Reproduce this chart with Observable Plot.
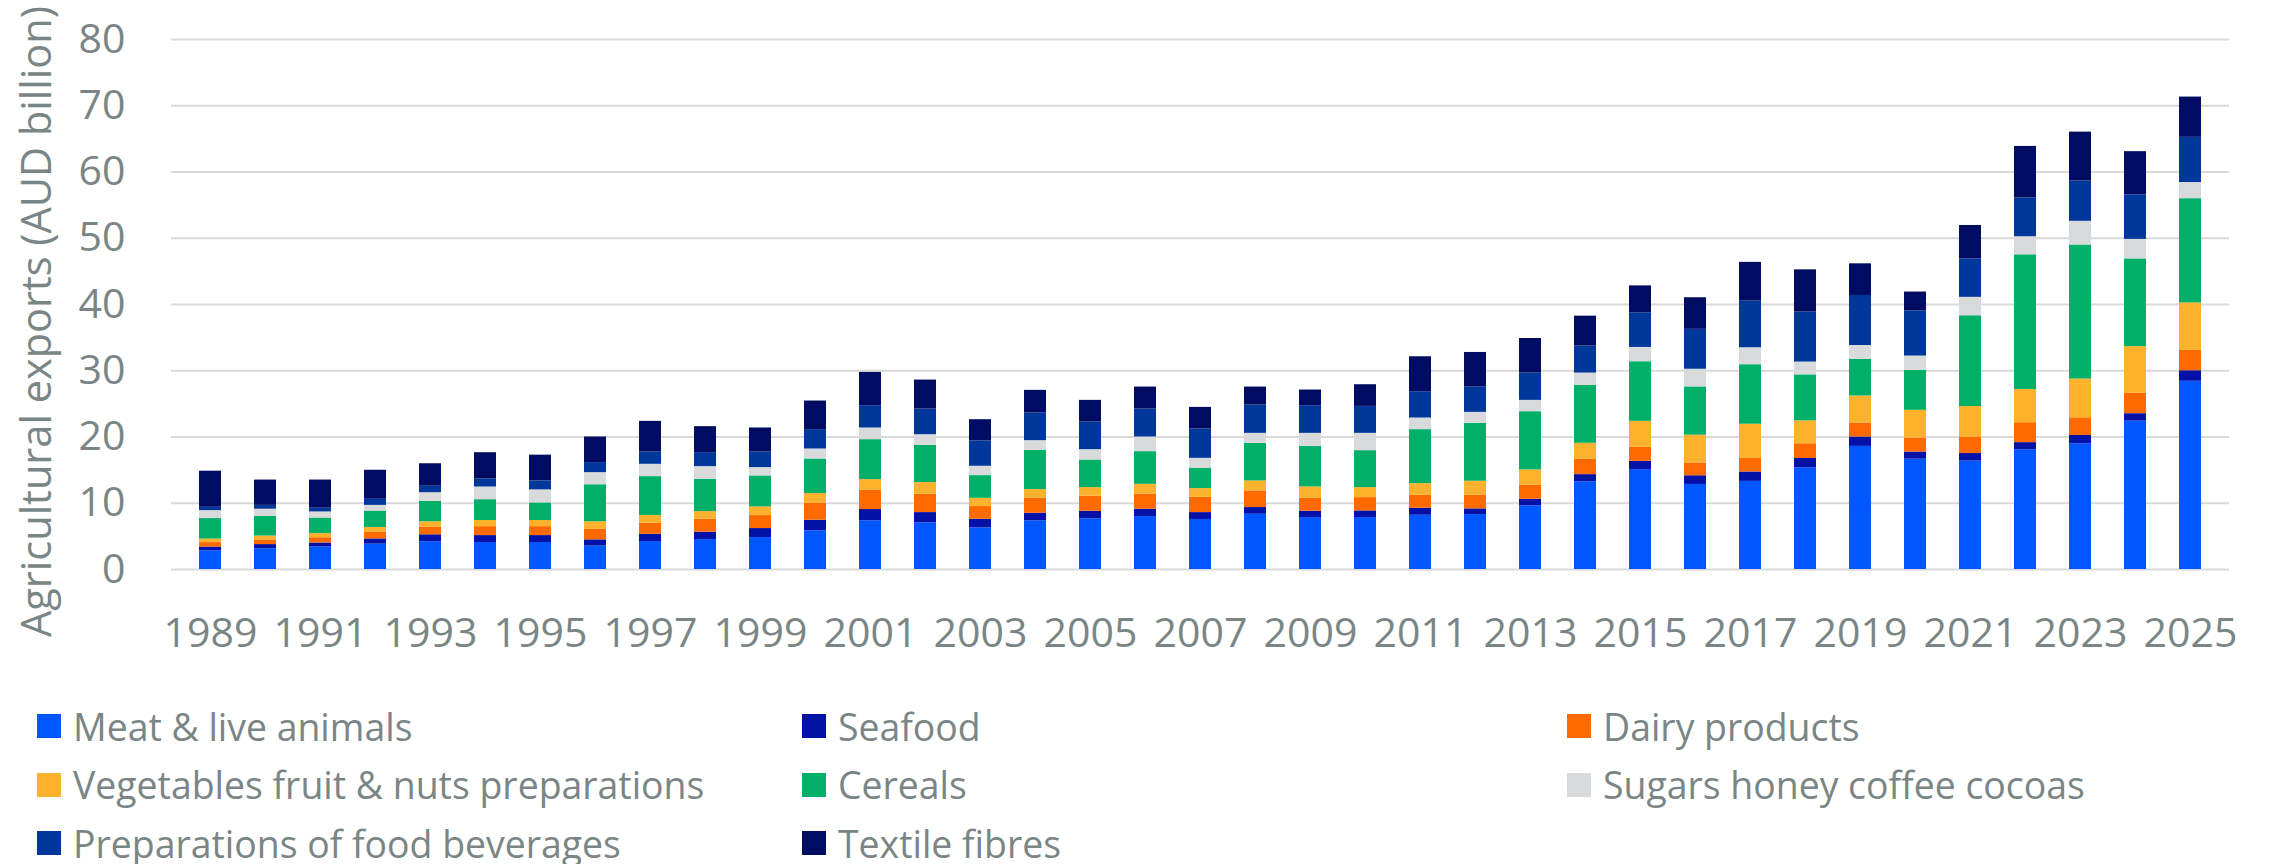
<!DOCTYPE html>
<html>
<head>
<meta charset="utf-8">
<script src="https://cdn.jsdelivr.net/npm/d3@7"></script>
<script src="https://cdn.jsdelivr.net/npm/@observablehq/plot@0.6"></script>
<style>
  html, body { margin: 0; padding: 0; background: #ffffff; }
  body { width: 2277px; height: 864px; overflow: hidden; font-family: "Open Sans", sans-serif; }
  #legend {
    display: grid;
    grid-template-columns: 765px 765px 700px;
    grid-auto-rows: 58.5px;
    margin: 17px 0 0 37px;
    font-family: "Open Sans", sans-serif;
    font-size: 37.4px;
    line-height: 1;
    color: #7a8585;
  }
  .item { display: flex; align-items: center; white-space: nowrap; }
  .sw { width: 24px; height: 24px; margin-right: 12px; flex: none; }
</style>
</head>
<body>
<div id="chart"></div>
<div id="legend"></div>
<script>
const years = [1989,1990,1991,1992,1993,1994,1995,1996,1997,1998,1999,2000,2001,2002,2003,2004,2005,2006,2007,2008,2009,2010,2011,2012,2013,2014,2015,2016,2017,2018,2019,2020,2021,2022,2023,2024,2025];
const xTickLabels = [1989,1991,1993,1995,1997,1999,2001,2003,2005,2007,2009,2011,2013,2015,2017,2019,2021,2023,2025];
const yTicks = [0,10,20,30,40,50,60,70,80];
const yTitle = "Agricultural exports (AUD billion)";

const seriesNames = [
  "Meat & live animals",
  "Seafood",
  "Dairy products",
  "Vegetables fruit & nuts preparations",
  "Cereals",
  "Sugars honey coffee cocoas",
  "Preparations of food beverages",
  "Textile fibres"
];
const colors = ["#0057ff","#0311a7","#ff6a00","#fdb22e","#00b069","#d9dadc","#00379b","#000c62"];

const meat    = [2.84,3.14,3.39,3.82,4.19,4.07,4.07,3.54,4.22,4.52,4.82,5.83,7.34,7.04,6.28,7.34,7.64,7.99,7.54,8.34,7.84,7.84,8.19,8.29,9.6,13.22,15.08,12.84,13.3,15.34,18.58,16.65,16.36,18.07,18.98,22.39,28.41];
const seafood = [0.55,0.62,0.61,0.8,1.05,1.05,1.05,0.94,1.11,1.11,1.36,1.61,1.71,1.55,1.31,1.15,1.15,1.11,1.05,1.01,0.95,1.0,1.06,0.86,1.0,1.1,1.25,1.31,1.42,1.42,1.42,1.08,1.14,1.08,1.25,1.13,1.59];
const dairy   = [0.67,0.68,0.8,0.98,1.11,1.35,1.35,1.58,1.65,1.96,1.96,2.56,2.91,2.77,1.91,2.26,2.27,2.26,2.31,2.51,1.96,2.01,1.96,2.06,2.11,2.31,2.11,1.93,2.04,2.22,2.1,2.1,2.5,3.01,2.67,3.07,3.07];
const veg     = [0.53,0.61,0.62,0.75,0.86,0.93,0.93,1.14,1.16,1.15,1.31,1.46,1.61,1.76,1.25,1.31,1.3,1.5,1.31,1.51,1.71,1.51,1.75,2.11,2.32,2.42,3.92,4.2,5.17,3.46,4.09,4.2,4.6,5.0,5.85,7.05,7.16];
const cereals = [3.1,2.95,2.35,2.46,3.08,3.14,2.65,5.59,5.88,4.88,4.67,5.22,6.03,5.62,3.42,5.93,4.17,4.93,3.07,5.68,6.13,5.58,8.15,8.74,8.79,8.74,9.0,7.28,8.98,6.94,5.51,6.03,13.7,20.34,20.23,13.24,15.74];
const sugars  = [1.2,1.1,0.92,0.87,1.3,1.91,1.97,1.83,1.86,1.91,1.26,1.51,1.76,1.61,1.41,1.46,1.56,2.21,1.5,1.5,1.96,2.61,1.75,1.66,1.71,1.86,2.16,2.67,2.56,1.93,2.11,2.16,2.78,2.73,3.58,2.95,2.44];
const prep    = [0.5,0.58,0.56,0.92,0.98,1.23,1.35,1.52,1.86,2.11,2.36,2.92,3.36,3.87,3.82,4.17,4.17,4.22,4.43,4.27,4.17,4.07,3.97,3.82,4.12,4.07,5.22,6.02,7.04,7.55,7.55,6.81,5.8,5.85,6.08,6.7,6.82];
const textile = [5.45,3.82,4.25,4.38,3.39,3.95,3.89,3.86,4.62,3.92,3.62,4.32,5.03,4.37,3.21,3.42,3.27,3.32,3.26,2.72,2.37,3.27,5.28,5.22,5.22,4.52,4.07,4.77,5.85,6.37,4.78,2.85,5.05,7.78,7.38,6.54,6.08];

const seriesValues = [meat, seafood, dairy, veg, cereals, sugars, prep, textile];
const data = [];
seriesNames.forEach((s, si) => {
  seriesValues[si].forEach((v, i) => data.push({year: years[i], series: s, value: v}));
});

const chart = Plot.plot({
  width: 2277,
  height: 680,
  marginTop: 39,
  marginBottom: 111,
  marginLeft: 171,
  marginRight: 48,
  style: {fontFamily: "Open Sans", fontSize: "41px", color: "#7a8585", background: "#ffffff", overflow: "visible"},
  x: {type: "band", domain: years, paddingInner: 0.6, paddingOuter: 0.3, label: null},
  y: {domain: [0, 80], label: null},
  color: {domain: seriesNames, range: colors},
  marks: [
    Plot.gridY(yTicks, {stroke: "#d9d9d9", strokeOpacity: 1, strokeWidth: 2}),
    Plot.barY(data, {x: "year", y: "value", z: "series", fill: "series", order: seriesNames}),
    Plot.axisX({ticks: xTickLabels, tickFormat: d => String(d), tickSize: 0, tickPadding: 48, label: null, fontSize: 41}),
    Plot.axisY({ticks: yTicks, tickSize: 0, tickPadding: 46, label: null, fontSize: 41}),
    Plot.text([yTitle], {text: d => d, frameAnchor: "left", textAnchor: "middle", lineAnchor: "middle", rotate: -90, dx: -134, dy: 17, fontSize: 41.5, fill: "#7a8585"})
  ]
});
document.getElementById("chart").appendChild(chart);

const legend = document.getElementById("legend");
seriesNames.forEach((s, i) => {
  const item = document.createElement("div");
  item.className = "item";
  const sw = document.createElement("span");
  sw.className = "sw";
  sw.style.background = colors[i];
  const t = document.createElement("span");
  t.textContent = s;
  item.appendChild(sw);
  item.appendChild(t);
  legend.appendChild(item);
});
</script>
</body>
</html>
